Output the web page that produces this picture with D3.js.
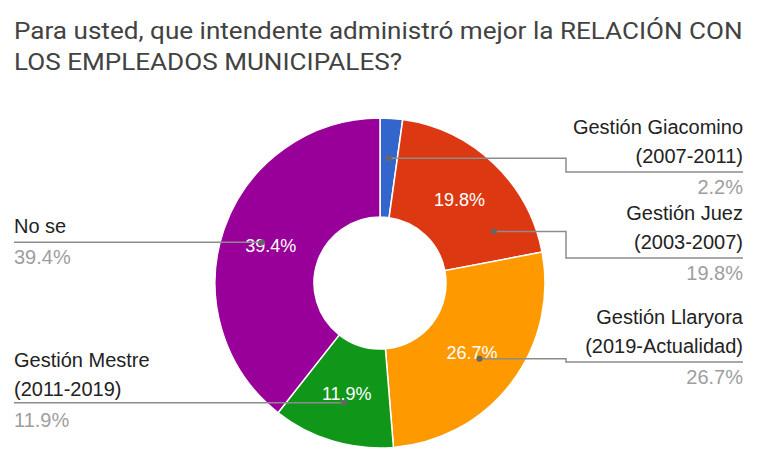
<!DOCTYPE html>
<html><head><meta charset="utf-8">
<script src="https://cdn.jsdelivr.net/npm/d3@7"></script>
<style>body{margin:0;background:#fff}svg{display:block}</style>
</head><body><svg id="c" width="767" height="451"></svg>
<script>
const titleLines = ["Para usted, que intendente administró mejor la RELACIÓN CON", "LOS EMPLEADOS MUNICIPALES?"];
const categories = ["Gestión Giacomino", "Gestión Juez", "Gestión Llaryora", "Gestión Mestre", "No se"];
const periods = ["(2007-2011)", "(2003-2007)", "(2019-Actualidad)", "(2011-2019)", ""];
const values = [2.2, 19.8, 26.7, 11.9, 39.4];
const colors = ["#3366cc", "#dc3912", "#ff9900", "#109618", "#990099"];
const anchorFrac = [0.5, 0.81, 0.5, 0.5, 0.5];
const labelSide = ["right", "right", "right", "left", "left"];
const labelTop = [134, 220, 324, 367, 233];

const svg = d3.select("#c");
const cx = 380, cy = 283, R = 165, r0 = 66, rA = 125;

const tg = svg.append("g");
const tt = tg.selectAll("text").data(titleLines).join("text")
  .attr("x", 0).attr("y", (d, i) => 39 + i * 31)
  .attr("font-family", "Roboto, sans-serif").attr("font-size", 24)
  .attr("fill", "#424242").text(d => d);
const w0 = tt.node().getComputedTextLength();
tg.attr("transform", `translate(14,0) scale(${729 / w0},1)`);

const pie = d3.pie().sort(null).value(d => d)(values);
const arc = d3.arc().innerRadius(r0).outerRadius(R);
const g = svg.append("g").attr("transform", `translate(${cx},${cy})`);
g.selectAll("path").data(pie).join("path")
  .attr("d", arc).attr("fill", (d, i) => colors[i])
  .attr("stroke", "#fff").attr("stroke-width", 1.5);

const lab = d3.arc().innerRadius((r0 + R) / 2).outerRadius((r0 + R) / 2);
g.selectAll("text.p").data(pie.filter(d => d.data > 5)).join("text")
  .attr("class", "p")
  .attr("transform", d => `translate(${lab.centroid(d)})`)
  .attr("text-anchor", "middle").attr("dy", "0.35em")
  .attr("font-family", "'Liberation Sans', Arial, sans-serif").attr("font-size", 18)
  .attr("fill", "#fff").text(d => d.data.toFixed(1) + "%");

const font = "'Liberation Sans', Arial, sans-serif";
pie.forEach((d, i) => {
  const a = d.startAngle + anchorFrac[i] * (d.endAngle - d.startAngle);
  const ax = cx + rA * Math.sin(a), ay = cy - rA * Math.cos(a);
  const lines = [categories[i]].concat(periods[i] ? [periods[i]] : []);
  const lineY = labelTop[i] + (lines.length - 1) * 29 + 9;
  const right = labelSide[i] === "right";
  const tx = right ? 743 : 14;
  let pts;
  if (right) {
    if (Math.abs(lineY - ay) > 3) pts = [[ax, ay], [566, ay], [566, lineY], [743, lineY]];
    else pts = [[ax, ay], [743, ay]];
  } else {
    pts = [[ax, ay], [14, ay]];
  }
  svg.append("path").attr("d", d3.line()(pts)).attr("fill", "none")
    .attr("stroke", "#8c8c8c").attr("stroke-width", 1.5);
  svg.append("circle").attr("cx", ax).attr("cy", ay).attr("r", 3).attr("fill", "#666");
  lines.forEach((t, k) => {
    svg.append("text").attr("x", tx).attr("y", labelTop[i] + k * 29)
      .attr("text-anchor", right ? "end" : "start")
      .attr("font-family", font).attr("font-size", 20).attr("fill", "#222").text(t);
  });
  svg.append("text").attr("x", tx).attr("y", lineY + 22)
    .attr("text-anchor", right ? "end" : "start")
    .attr("font-family", font).attr("font-size", 20).attr("fill", "#9e9e9e")
    .text(d.data.toFixed(1) + "%");
});
</script></body></html>
